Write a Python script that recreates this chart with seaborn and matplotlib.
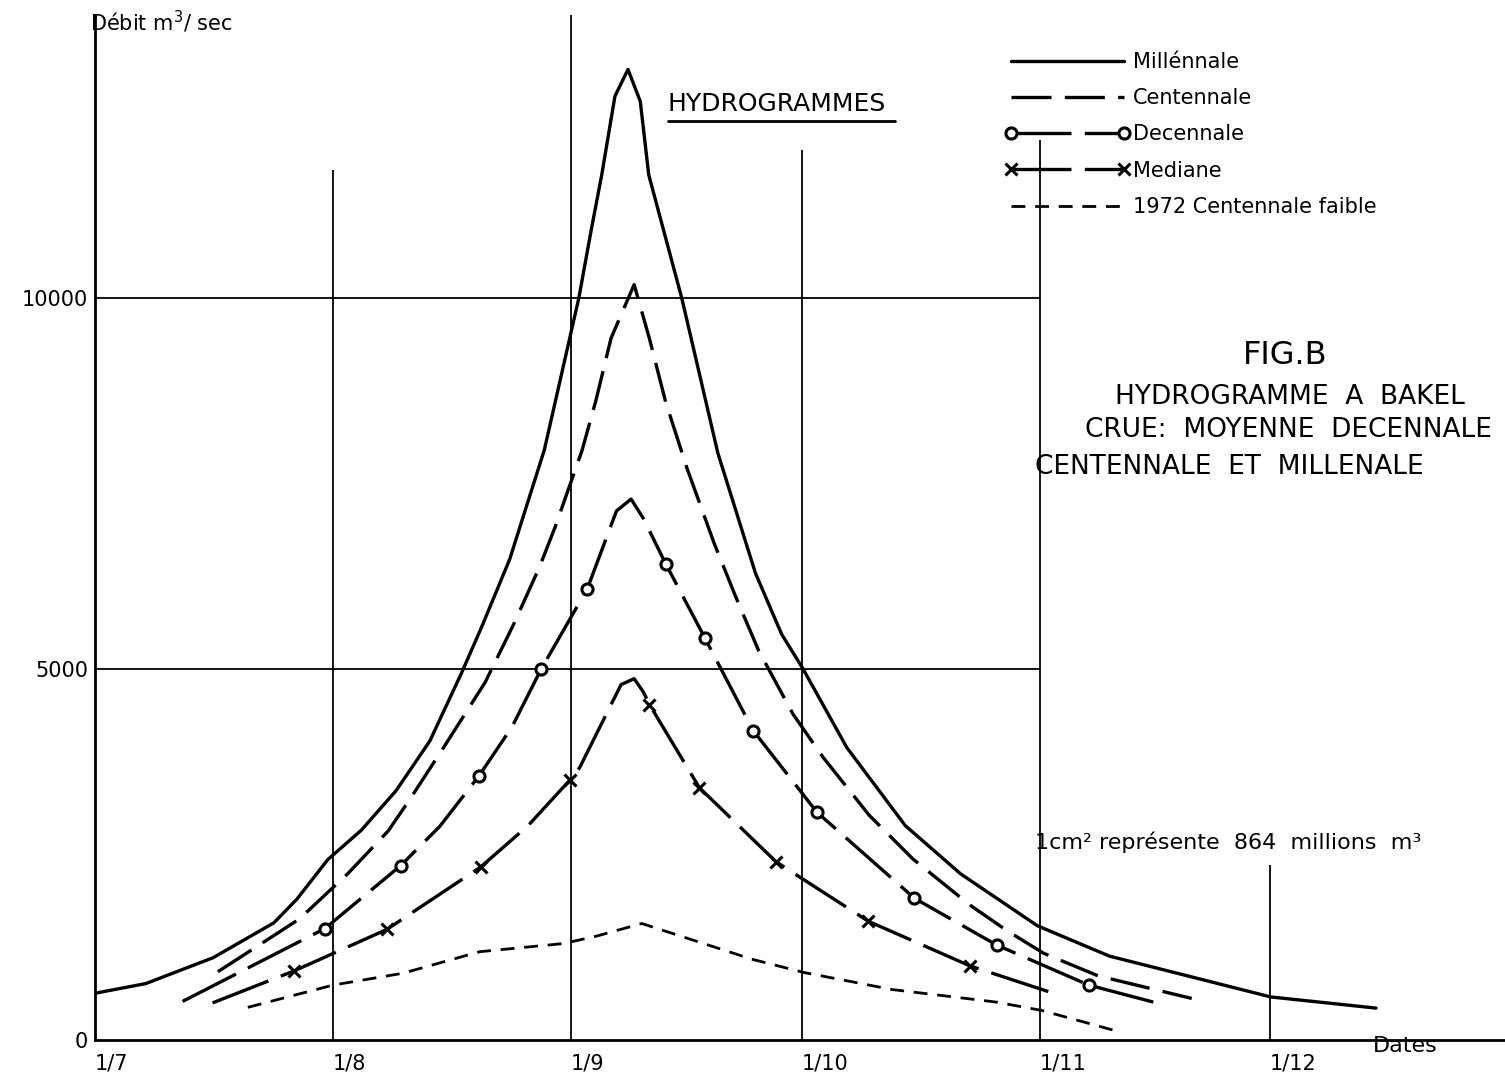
import matplotlib
matplotlib.use("Agg")
import matplotlib.pyplot as plt
import seaborn as sns
import pandas as pd
from matplotlib.lines import Line2D

# ---------------- data (days since 1 July, discharge m3/s) ----------------
mil_day = [0, 6.6, 15.4, 23.3, 26.3, 30.3, 34.7, 39.2, 43.6, 47.7, 50.4, 54.0, 58.5, 63.0,
           64.6, 66.0, 67.7, 69.4, 71.0, 72.1, 76.4, 81.1, 86.0, 89.4, 92.2, 97.9, 105.5,
           112.7, 122.7, 132.1, 142.8, 153.1, 166.8]
mil_q = [630, 760, 1110, 1580, 1900, 2430, 2830, 3360, 4030, 4940, 5580, 6480, 7950, 10000,
         10910, 11670, 12720, 13080, 12650, 11660, 10000, 7910, 6290, 5470, 5000, 3940, 2890,
         2240, 1540, 1130, 850, 580, 430]

cen_day = [16.0, 26.6, 32.9, 38.2, 41.1, 45.5, 50.8, 54.5, 57.9, 59.9, 63.4, 65.2, 67.2, 70.2,
           72.2, 74.3, 77.1, 80.6, 83.4, 86.4, 90.9, 94.8, 100.8, 106.5, 113.9, 118.8, 123.5,
           130.6, 142.8]
cen_q = [920, 1630, 2240, 2820, 3260, 3960, 4820, 5600, 6380, 6910, 7940, 8610, 9460, 10180,
         9450, 8600, 7700, 6700, 5980, 5250, 4390, 3810, 3030, 2440, 1820, 1470, 1170, 865, 560]

dec_day = [11.4, 29.9, 39.8, 44.9, 50.0, 54.3, 58.1, 64.1, 67.9, 69.8, 71.4, 74.3, 79.4, 85.7,
           94.0, 106.7, 117.4, 129.4, 139.3]
dec_q = [520, 1500, 2350, 2880, 3560, 4220, 5000, 6080, 7130, 7290, 7030, 6420, 5420, 4170,
         3070, 1910, 1280, 740, 470]
dec_marks = [1, 2, 4, 6, 7, 11, 12, 13, 14, 15, 16, 17]

med_day = [15.3, 25.9, 38.0, 50.2, 56.4, 61.8, 63.1, 68.5, 70.2, 71.4, 72.2, 78.7, 88.7,
           100.7, 113.9, 124.5]
med_q = [500, 930, 1490, 2330, 2890, 3500, 3670, 4790, 4870, 4690, 4520, 3400, 2400, 1600,
         1000, 640]
med_marks = [1, 2, 3, 5, 10, 11, 12, 13, 14]

f72_day = [19.9, 31.0, 40.1, 50.1, 61.0, 65.3, 71.2, 85.5, 92.3, 103.8, 117.4, 123.2, 133.4]
f72_q = [440, 740, 900, 1190, 1300, 1400, 1570, 1090, 910, 680, 510, 400, 110]

month_days = [0, 31, 62, 92, 123, 153]
month_labels = ["1/7", "1/8", "1/9", "1/10", "1/11", "1/12"]
y_ticks = [0, 5000, 10000]
y_labels = ["0", "5000", "10000"]

series_labels = ["Millénnale", "Centennale", "Decennale", "Mediane", "1972 Centennale faible"]

# ---------------- figure ----------------
sns.set_theme(style="white")
plt.rcParams["font.family"] = ["DejaVu Sans"]
for key in ["text.color", "axes.labelcolor", "xtick.color", "ytick.color"]:
    plt.rcParams[key] = "black"

W, H = 1505, 1083
X0, Y0 = 95, 1040           # pixel of origin
PXD, PXQ = 7.68, 0.0742     # px per day, px per m3/s
fig = plt.figure(figsize=(W / 100, H / 100), dpi=100)
ax = fig.add_axes([X0 / W, (H - Y0) / H, 1 - X0 / W, (Y0 - 15) / H])
ax.set_xlim(0, (W - X0) / PXD)
ymax = (Y0 - 15) / PXQ
ax.set_ylim(0, ymax)

lw = 2.4
k = "black"

# construction lines
ax.hlines([5000, 10000], 0, 123, color=k, lw=1.3)
ax.vlines(31, 0, 11725, color=k, lw=1.3)
ax.vlines(62, 0, ymax, color=k, lw=1.3)
ax.vlines(92, 0, 11995, color=k, lw=1.3)
ax.vlines(123, 0, 12130, color=k, lw=1.3)
ax.vlines(153, 0, 2360, color=k, lw=1.3)

df = pd.DataFrame
sns.lineplot(data=df({"d": mil_day, "q": mil_q}), x="d", y="q", ax=ax, color=k, lw=lw,
             label=series_labels[0])
sns.lineplot(data=df({"d": cen_day, "q": cen_q}), x="d", y="q", ax=ax, color=k, lw=lw,
             linestyle=(0, (12, 4)), label=series_labels[1])
sns.lineplot(data=df({"d": dec_day, "q": dec_q}), x="d", y="q", ax=ax, color=k, lw=lw,
             linestyle=(0, (18, 4)), marker="o", markersize=8, mfc="white", mec=k, mew=2.2,
             markevery=dec_marks, label=series_labels[2])
sns.lineplot(data=df({"d": med_day, "q": med_q}), x="d", y="q", ax=ax, color=k, lw=lw,
             linestyle=(0, (18, 4)), marker="x", markersize=8, mec=k, mew=2.2,
             markevery=med_marks, label=series_labels[3])
sns.lineplot(data=df({"d": f72_day, "q": f72_q}), x="d", y="q", ax=ax, color=k, lw=2.0,
             linestyle=(0, (5, 3.5)), label=series_labels[4])

# axes styling
for s in ["top", "right"]:
    ax.spines[s].set_visible(False)
for s in ["left", "bottom"]:
    ax.spines[s].set_color(k)
    ax.spines[s].set_linewidth(2.0)
ax.set_xlabel("")
ax.set_ylabel("")
ax.set_xticks(month_days)
ax.set_xticklabels(month_labels, ha="left", fontsize=15)
ax.set_yticks(y_ticks)
ax.set_yticklabels(y_labels, fontsize=15)
ax.tick_params(axis="x", length=0, pad=10)
ax.tick_params(axis="y", length=0, pad=5)
ax.grid(False)

# legend
leg = ax.legend(loc="upper left", bbox_to_anchor=(1005 / W, 1 - 52 / H),
                bbox_transform=fig.transFigure, frameon=False, fontsize=15,
                handlelength=6.0, handletextpad=0.15, labelspacing=0.78, borderpad=0,
                borderaxespad=0, numpoints=2)

# texts
def ftext(px, py, s, **kw):
    fig.text(px / W, 1 - py / H, s, color=k, **kw)

ftext(90, 22, "Débit m$^3$/ sec", fontsize=15, ha="left", va="center")
ftext(668, 104, "HYDROGRAMMES", fontsize=18, ha="left", va="center")
fig.add_artist(Line2D([668 / W, 895 / W], [1 - 121 / H, 1 - 121 / H], color=k, lw=2,
                      transform=fig.transFigure))
ftext(1285, 355, "FIG.B", fontsize=23, ha="center", va="center")
ftext(1290, 397, "HYDROGRAMME  A  BAKEL", fontsize=19, ha="center", va="center")
ftext(1085, 430, "CRUE:  MOYENNE  DECENNALE", fontsize=19, ha="left", va="center")
ftext(1035, 467, "CENTENNALE  ET  MILLENALE", fontsize=19, ha="left", va="center")
ftext(1035, 842, "1cm² représente  864  millions  m³", fontsize=16, ha="left", va="center")
ftext(1405, 1046, "Dates", fontsize=16, ha="center", va="center")

fig.savefig("out.png", dpi=100, facecolor="white")
